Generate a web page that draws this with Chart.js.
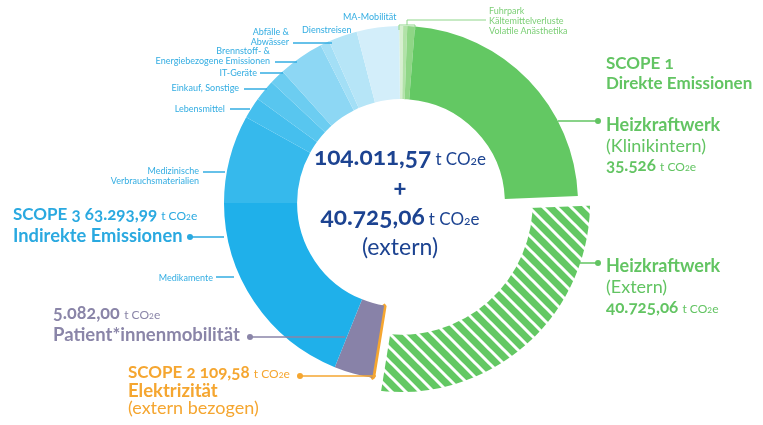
<!DOCTYPE html>
<html><head><meta charset="utf-8">
<script src="https://cdn.jsdelivr.net/npm/chart.js@4.4.0/dist/chart.umd.min.js"></script>
<style>
html,body{margin:0;padding:0;background:#fff;}
#wrap{position:relative;width:763px;height:425px;overflow:hidden;font-family:Lato,"Open Sans",sans-serif;font-variant-numeric:oldstyle-nums;}
canvas{position:absolute;left:0;top:0;}
.t{position:absolute;white-space:nowrap;line-height:20px;}
.b{font-weight:700;font-size:17px;}
.r{font-weight:400;font-size:17px;}
.u{font-size:12px;font-weight:400;}
.s{position:absolute;white-space:nowrap;font-size:9px;line-height:10px;}
.g{color:#62c462;} .bl{color:#2aa9e0;} .p{color:#8a85a8;} .o{color:#f5a630;}
.sb{color:#33ade2;} .sg{color:#7ccf76;}
.c{position:absolute;left:250px;width:300px;text-align:center;color:#1c4391;white-space:nowrap;}
svg{position:absolute;left:0;top:0;}
</style></head>
<body>
<div id="wrap">
<canvas id="over" width="763" height="425"></canvas>
<canvas id="main" width="763" height="425"></canvas>
<svg id="lines" width="763" height="425"></svg>
<div id="labels"></div>
</div>
<script>
// ---- data ----
const categories = ['Fuhrpark','Kältemittelverluste','Volatile Anästhetika','Heizkraftwerk (Klinikintern)','Heizkraftwerk (Extern)','Elektrizität (extern bezogen)','Patient*innenmobilität','Medikamente','Medizinische Verbrauchsmaterialien','Lebensmittel','Einkauf, Sonstige','IT-Geräte','Brennstoff- & Energiebezogene Emissionen','Abfälle & Abwässer','Dienstreisen','MA-Mobilität'];
const values = [520, 540, 1000, 33470, 40725.06, 109.58, 5082, 27348, 11660, 2815, 2815, 2010, 6030, 1206, 3820, 5590];
const hatchedIndex = 4;
const totalIntern = '104.011,57';
const totalExtern = '40.725,06';
const scope1Value = '35.526';
const externValue = '40.725,06';
const scope3Value = '63.293,99';
const patientValue = '5.082,00';
const scope2Value = '109,58';

// ---- styles ----
const sliceColors = ['#d6efcf','#b2e2a8','#8fd686','#63c863','#63c863','#f5a630','#8882a8','#1fb0ea','#36b9ec','#45bfee','#58c6ef','#6ccdf1','#8dd7f4','#a3dff6','#b6e5f7','#d3eefa'];

function hatch(){
  const s=14, c=document.createElement('canvas'); c.width=s; c.height=s;
  const g=c.getContext('2d');
  g.fillStyle='#63c863'; g.fillRect(0,0,s,s);
  g.strokeStyle='#ffffff'; g.lineWidth=3;
  g.beginPath();
  g.moveTo(-2,-2); g.lineTo(s+2,s+2);
  g.moveTo(-2,s-2); g.lineTo(2,s+2);
  g.moveTo(s-2,-2); g.lineTo(s+2,2);
  g.stroke();
  return document.getElementById('over').getContext('2d').createPattern(c,'repeat');
}

const common = {responsive:false, animation:false, events:[], rotation:-0.6,
  layout:{padding:{left:39,right:0,top:0,bottom:19}},
  plugins:{legend:{display:false}, tooltip:{enabled:false}}};

const pat = hatch();
new Chart(document.getElementById('over'), {
  type:'doughnut',
  data:{labels:categories, datasets:[{data:values,
    backgroundColor: values.map((v,i)=> i===hatchedIndex ? pat : 'rgba(0,0,0,0)'),
    borderColor:'#ffffff', borderAlign:'center',
    borderWidth: values.map((v,i)=> i===hatchedIndex ? 20 : 0)}]},
  options:Object.assign({radius:199, cutout:118}, common)
});
new Chart(document.getElementById('main'), {
  type:'doughnut',
  data:{labels:categories, datasets:[{data:values,
    backgroundColor: sliceColors.map((c,i)=> i===hatchedIndex ? 'rgba(0,0,0,0)' : c),
    borderColor: sliceColors,
    borderWidth: values.map((v,i)=> i===5 ? 4 : 0)}]},
  options:Object.assign({radius:177, cutout:118}, common)
});

// ---- annotations ----
const CO2 = ' <span class="u">t CO<span style="font-size:9px">2</span>e</span>';
const L = document.getElementById('labels');
function add(cls, x, y, html, fs){ const d=document.createElement('div'); d.className=cls; d.style.left=x+'px'; d.style.top=y+'px'; if(fs) d.style.fontSize=fs+'px'; d.innerHTML=html; L.appendChild(d); return d; }
// right, scope 1
add('t b g',606,53,'SCOPE 1');
add('t b g',606,73,'Direkte Emissionen');
add('t b g',606,114,'Heizkraftwerk',18);
add('t r g',606,135,'(Klinikintern)',18);
add('t b g',606,155,scope1Value+CO2);
add('t b g',606,255,'Heizkraftwerk',18);
add('t r g',606,276,'(Extern)',18);
add('t b g',606,297,externValue+CO2);
// left
add('t b bl',13,204,'SCOPE 3 '+scope3Value+CO2);
add('t b bl',13,225,'Indirekte Emissionen',18.3);
add('t b p',53,302,patientValue+CO2,18);
add('t b p',53,324,'Patient*innenmobilität',18.5);
add('t b o',128,362,'SCOPE 2 '+scope2Value+CO2);
add('t b o',128,380,'Elektrizität',18.5);
add('t r o',128,397,'(extern bezogen)',18);
// small right-aligned labels (right edge x)
function addR(right, y, html, cls){ const d=add('s '+(cls||'sb'),0,y,html); d.style.left='auto'; d.style.right=(763-right)+'px'; d.style.textAlign='right'; }
addR(213,273,categories[7]);
addR(199,166,'Medizinische<br>Verbrauchsmaterialien');
addR(225,104,categories[9]);
addR(239,83,categories[10]);
addR(257,68,categories[11]);
addR(270,46,'Brennstoff- &amp;<br>Energiebezogene Emissionen');
addR(289,27,'Abfälle &amp;<br>Abwässer');
add('s sb',302,25,categories[14]);
add('s sb',343,12,categories[15]);
add('s sg',489,6,categories[0]+'<br>'+categories[1]+'<br>'+categories[2]);
// center
const unit = '<span style="font-size:17px">t CO<span style="font-size:12px">2</span>e</span>';
add('c',250,141,'<span style="font-weight:700;font-size:24.5px">'+totalIntern+'</span> '+unit);
add('c',250,172,'<span style="font-weight:700;font-size:24px">+</span>');
add('c',250,201,'<span style="font-weight:700;font-size:24.5px">'+totalExtern+'</span> '+unit);
add('c',250,232,'<span style="font-size:23px">(extern)</span>');

// leader lines
const S = document.getElementById('lines');
function line(x1,y1,x2,y2,col,dot){ S.innerHTML += `<line x1="${x1}" y1="${y1}" x2="${x2}" y2="${y2}" stroke="${col}" stroke-width="1.5"/>` + (dot?`<circle cx="${dot[0]}" cy="${dot[1]}" r="3" fill="${col}"/>`:''); }
line(558,121,598,121,'#62c462',[598,121]);
line(580,263,598,263,'#62c462',[598,263]);
line(190,237,224,237,'#2aa9e0',[190,237]);
line(250,337,345,337,'#8a85a8',[250,337]);
line(300,376,376,376,'#f5a630',[300,376]);
line(216,277,234,277,'#33ade2');
line(203,172,225,172,'#33ade2');
line(230,109,250,109,'#33ade2');
line(244,89,267,89,'#33ade2');
line(260,73,283,73,'#33ade2');
line(275,62,297,62,'#33ade2');
line(293,43,332,43,'#33ade2');
S.innerHTML += '<polyline points="399,30 399,25 415,25 415,30" fill="none" stroke="#8fd68a" stroke-width="1"/><polyline points="407,25 407,20 486,20" fill="none" stroke="#8fd68a" stroke-width="1"/>';
</script>
</body></html>
